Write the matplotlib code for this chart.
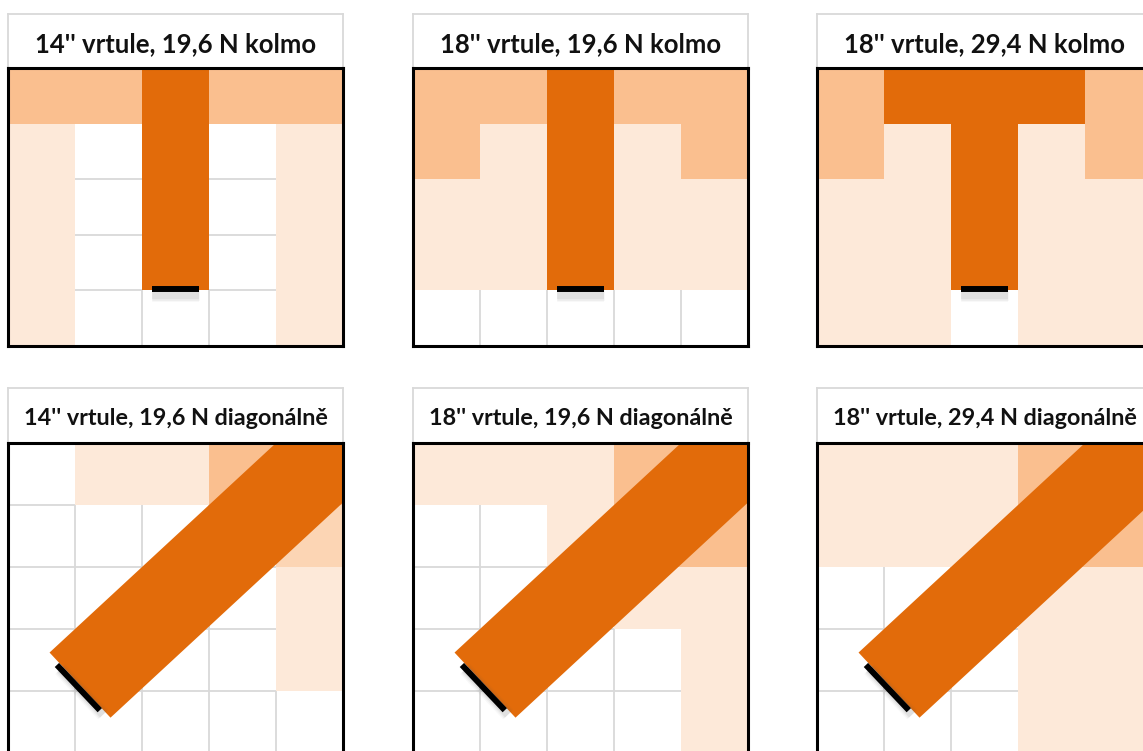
import matplotlib
matplotlib.use("Agg")
import matplotlib.pyplot as plt
import numpy as np
from matplotlib.collections import LineCollection
from matplotlib.colors import ListedColormap
from matplotlib.patches import Polygon

plt.rcParams["font.family"] = ["Lato", "DejaVu Sans"]

# shading levels: 0 white, 1 light, 2 light-medium, 3 medium, 4 arm (dark)
LEVEL_COLORS = ["#FFFFFF", "#FDE9D9", "#FCD5B4", "#FABF8F", "#E26B0A"]

titles = [
    "14'' vrtule, 19,6 N kolmo",
    "18'' vrtule, 19,6 N kolmo",
    "18'' vrtule, 29,4 N kolmo",
    "14'' vrtule, 19,6 N diagonálně",
    "18'' vrtule, 19,6 N diagonálně",
    "18'' vrtule, 29,4 N diagonálně",
]

grid_14_196_kolmo = [
    [3, 3, 4, 3, 3],
    [1, 0, 4, 0, 1],
    [1, 0, 4, 0, 1],
    [1, 0, 4, 0, 1],
    [1, 0, 0, 0, 1],
]
grid_18_196_kolmo = [
    [3, 3, 4, 3, 3],
    [3, 1, 4, 1, 3],
    [1, 1, 4, 1, 1],
    [1, 1, 4, 1, 1],
    [0, 0, 0, 0, 0],
]
grid_18_294_kolmo = [
    [3, 4, 4, 4, 3],
    [3, 1, 4, 1, 3],
    [1, 1, 4, 1, 1],
    [1, 1, 4, 1, 1],
    [1, 1, 0, 1, 1],
]
grid_14_196_diag = [
    [0, 1, 1, 3, 3],
    [0, 0, 0, 0, 2],
    [0, 0, 0, 0, 1],
    [0, 0, 0, 0, 1],
    [0, 0, 0, 0, 0],
]
grid_18_196_diag = [
    [1, 1, 1, 3, 3],
    [0, 0, 1, 3, 3],
    [0, 0, 0, 1, 1],
    [0, 0, 0, 0, 1],
    [0, 0, 0, 0, 1],
]
grid_18_294_diag = [
    [1, 1, 1, 3, 3],
    [1, 1, 1, 3, 3],
    [0, 0, 0, 1, 1],
    [0, 0, 0, 1, 1],
    [0, 0, 0, 1, 1],
]
grids = [grid_14_196_kolmo, grid_18_196_kolmo, grid_18_294_kolmo,
         grid_14_196_diag, grid_18_196_diag, grid_18_294_diag]
diagonal = [False, False, False, True, True, True]

# diagonal arm: corners of its free end (grid units), it runs towards the upper right
arm_end_a = [0.62, 3.38]
arm_end_b = [1.53, 4.43]
arm_dir = [1.0, -1.0]

# motor mount (black bar) for straight and diagonal arms
motor_vert_x = [2.15, 2.85]
motor_vert_y = [3.98, 3.98]
motor_diag_x = [0.73, 1.37]
motor_diag_y = [3.58, 4.31]

W, H = 1143, 751
fig = plt.figure(figsize=(W / 100, H / 100), dpi=100)
cmap = ListedColormap(LEVEL_COLORS)


def px_axes(x0, y0, w, h):
    return fig.add_axes([x0 / W, 1 - (y0 + h) / H, w / W, h / H])


col_left = [8, 413, 817]
cell_w = 67
# title top, grid top, row height, title font size
rows_px = [(14, 68, 55.6, 18.5), (388, 443, 62.0, 16.8)]

for i, (title, grid) in enumerate(zip(titles, grids)):
    r, c = divmod(i, 3)
    t_top, g_top, row_h, fsize = rows_px[r]
    x0 = col_left[c]

    # title box
    tax = px_axes(x0, t_top, 5 * cell_w, g_top - t_top)
    tax.set_xticks([])
    tax.set_yticks([])
    for sp in tax.spines.values():
        sp.set_color("#D9D9D9")
        sp.set_linewidth(1.3)
    tax.text(0.5, 0.45, title, ha="center", va="center", fontsize=fsize,
             fontweight="bold", color="#111111", transform=tax.transAxes)

    # cell grid
    ax = px_axes(x0, g_top, 5 * cell_w, 5 * row_h)
    g = np.array(grid)
    ax.pcolormesh(np.arange(6), np.arange(6), g, cmap=cmap, vmin=-0.5,
                  vmax=len(LEVEL_COLORS) - 0.5, antialiased=False,
                  edgecolors="none")
    ax.set_xlim(0, 5)
    ax.set_ylim(5, 0)
    ax.set_xticks([])
    ax.set_yticks([])

    # light gridlines only between two white cells
    segs = []
    for rr in range(5):
        for cc in range(1, 5):
            if g[rr, cc - 1] == 0 and g[rr, cc] == 0:
                segs.append([(cc, rr), (cc, rr + 1)])
    for rr in range(1, 5):
        for cc in range(5):
            if g[rr - 1, cc] == 0 and g[rr, cc] == 0:
                segs.append([(cc, rr), (cc + 1, rr)])
    ax.add_collection(LineCollection(segs, colors="#D9D9D9", linewidths=1.3,
                                     zorder=1))

    if diagonal[i]:
        a = np.array(arm_end_a)
        b = np.array(arm_end_b)
        d = np.array(arm_dir) * 6
        arm = Polygon([a, b, b + d, a + d], closed=True,
                      facecolor=LEVEL_COLORS[4], edgecolor="none", zorder=3)
        ax.add_patch(arm)
        mx, my = motor_diag_x, motor_diag_y
        shadow = (0.05, 0.07)
    else:
        mx, my = motor_vert_x, motor_vert_y
        shadow = (0.0, 0.1)

    # soft shadow under the motor mount
    for lw, al in [(10, 0.04), (8, 0.06), (6, 0.09)]:
        ax.plot(np.array(mx) + shadow[0], np.array(my) + shadow[1],
                color="#555555", lw=lw, alpha=al, solid_capstyle="butt",
                zorder=4)
    ax.plot(mx, my, color="black", lw=4.3, solid_capstyle="butt", zorder=5)

    for sp in ax.spines.values():
        sp.set_linewidth(2.2)
        sp.set_color("black")
        sp.set_zorder(10)

fig.savefig("out.png", dpi=100)
